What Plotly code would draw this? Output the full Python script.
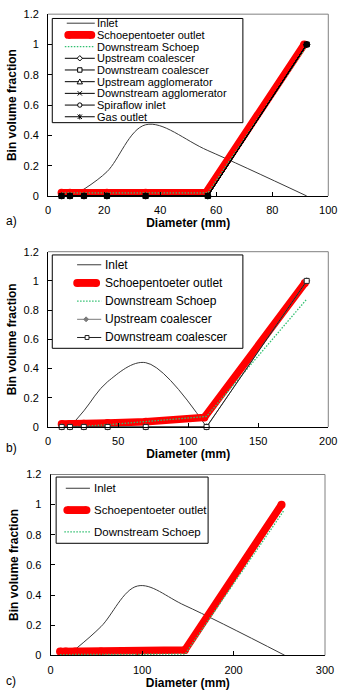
import plotly.graph_objects as go

W, H = 354, 697
FONT = "Liberation Sans, Arial, sans-serif"

# ---------------- data: panel a ----------------
a_names = ["Inlet", "Schoepentoeter outlet", "Downstream Schoep", "Upstream coalescer",
           "Downstream coalescer", "Upstream agglomerator", "Downstream agglomerator",
           "Spiraflow inlet", "Gas outlet"]
a_x = [4.8, 7.8, 12.8, 21.0, 34.8, 57.0, 92.3]
a_inlet_x = [12.8, 21.0, 34.8, 57.0, 92.3]
a_inlet = [0.045, 0.16, 0.47, 0.30, 0.0]
a_schoep_x = [4.8, 7.8, 12.8, 21.0, 34.8, 56.3, 91.4]
a_schoep = [0.021, 0.021, 0.021, 0.021, 0.021, 0.021, 1.0]
a_down_schoep = [0.02, 0.02, 0.02, 0.02, 0.02, 0.02, 0.99]
a_up_coal = [0, 0, 0, 0, 0, 0, 1.0]
a_down_coal = [0, 0, 0, 0, 0, 0, 1.0]
a_up_agg = [0, 0, 0, 0, 0, 0, 1.0]
a_down_agg = [0, 0, 0, 0, 0, 0, 1.0]
a_spira = [0, 0, 0, 0, 0, 0, 1.0]
a_gas = [0, 0, 0, 0, 0, 0, 1.0]

# ---------------- data: panel b ----------------
b_names = ["Inlet", "Schoepentoeter outlet", "Downstream Schoep", "Upstream coalescer",
           "Downstream coalescer"]
b_x = [9.7, 15.6, 25.5, 42.5, 69.7, 113.1, 184.6]
b_inlet_x = [15.6, 25.5, 42.5, 69.7, 113.1]
b_inlet = [0.0, 0.11, 0.31, 0.44, 0.0]
b_schoep_x = [9.7, 15.6, 25.5, 42.5, 69.7, 111.5, 183.3]
b_schoep = [0.02, 0.02, 0.022, 0.027, 0.036, 0.065, 0.985]
b_down_schoep = [0.0, 0.0, 0.005, 0.015, 0.035, 0.072, 0.875]
b_up_coal = [0, 0, 0, 0, 0, 0, 1.0]
b_down_coal = [0, 0, 0, 0, 0, 0, 1.0]

# ---------------- data: panel c ----------------
c_names = ["Inlet", "Schoepentoeter outlet", "Downstream Schoep"]
c_inlet_x = [27, 55, 95, 147, 256]
c_inlet = [0.04, 0.19, 0.46, 0.33, 0.0]
c_schoep_x = [10.3, 16.5, 27, 55, 95, 146.8, 252.5]
c_schoep = [0.025, 0.025, 0.025, 0.026, 0.028, 0.035, 1.0]
c_down_schoep_x = [10.3, 16.5, 27, 55, 95, 147, 255]
c_down_schoep = [0.005, 0.005, 0.005, 0.005, 0.006, 0.008, 0.96]

# axis ticks
x_ranges = [[0, 100], [0, 200], [0, 300]]
x_dticks = [20, 50, 100]
y_range = [0, 1.2]
y_dtick = 0.2

RED = "#ff0000"
GREEN = "#2fbf6f"
GREEN_DASH = "1.5px,1.5px"
INLET = "#3a3a3a"
GRAY = "#7a7a7a"


def px(x):
    return x / W


def py(y):
    return 1 - y / H


fig = go.Figure()


def inlet_trace(x, y, xa, ya, name):
    return go.Scatter(x=x, y=y, xaxis=xa, yaxis=ya, name=name, mode="lines",
                      line=dict(color=INLET, width=1, shape="spline", smoothing=1),
                      showlegend=False, hoverinfo="skip")


def red_trace(x, y, xa, ya, name):
    return go.Scatter(x=x, y=y, xaxis=xa, yaxis=ya, name=name, mode="lines+markers",
                      line=dict(color=RED, width=7.5),
                      marker=dict(color=RED, size=8, symbol="circle", line=dict(width=0)),
                      showlegend=False, hoverinfo="skip")


def green_trace(x, y, xa, ya, name):
    return go.Scatter(x=x, y=y, xaxis=xa, yaxis=ya, name=name, mode="lines",
                      line=dict(color=GREEN, width=1.3, dash=GREEN_DASH),
                      showlegend=False, hoverinfo="skip")


def black_trace(x, y, xa, ya, name, symbol, color="black", fill="black", size=5):
    return go.Scatter(x=x, y=y, xaxis=xa, yaxis=ya, name=name, mode="lines+markers",
                      line=dict(color=color, width=1),
                      marker=dict(symbol=symbol, size=size, color=fill,
                                  line=dict(color=color, width=1)),
                      cliponaxis=False, showlegend=False, hoverinfo="skip")


# panel a
fig.add_trace(inlet_trace(a_inlet_x, a_inlet, "x", "y", a_names[0]))
fig.add_trace(red_trace(a_schoep_x, a_schoep, "x", "y", a_names[1]))
fig.add_trace(green_trace(a_x, a_down_schoep, "x", "y", a_names[2]))
fig.add_trace(black_trace(a_x, a_up_coal, "x", "y", a_names[3], "diamond"))
fig.add_trace(black_trace(a_x, a_down_coal, "x", "y", a_names[4], "square"))
fig.add_trace(black_trace(a_x, a_up_agg, "x", "y", a_names[5], "triangle-up"))
fig.add_trace(black_trace(a_x, a_down_agg, "x", "y", a_names[6], "x-thin-open"))
fig.add_trace(black_trace(a_x, a_spira, "x", "y", a_names[7], "circle"))
fig.add_trace(black_trace(a_x, a_gas, "x", "y", a_names[8], "asterisk-open"))

# panel b
fig.add_trace(inlet_trace(b_inlet_x, b_inlet, "x2", "y2", b_names[0]))
fig.add_trace(red_trace(b_schoep_x, b_schoep, "x2", "y2", b_names[1]))
fig.add_trace(green_trace(b_x, b_down_schoep, "x2", "y2", b_names[2]))
fig.add_trace(black_trace(b_x, b_up_coal, "x2", "y2", b_names[3], "diamond",
                          color=GRAY, fill=GRAY))
fig.add_trace(black_trace(b_x, b_down_coal, "x2", "y2", b_names[4], "square",
                          color="#222222", fill="white"))

# panel c
fig.add_trace(inlet_trace(c_inlet_x, c_inlet, "x3", "y3", c_names[0]))
fig.add_trace(red_trace(c_schoep_x, c_schoep, "x3", "y3", c_names[1]))
fig.add_trace(green_trace(c_down_schoep_x, c_down_schoep, "x3", "y3", c_names[2]))

# ---------------- layout ----------------
panels = [
    # (left, right, top, bottom) in px
    (46.7, 336.7, 8.3, 193.3),
    (46.7, 336.7, 250.0, 428.3),
    (49.3, 333.3, 476.7, 660.7),
]

tickfont = dict(family=FONT, size=11, color="black")
titlefont = dict(family=FONT, size=12, color="black", weight="bold")

layout = dict(width=W, height=H, margin=dict(l=0, r=0, t=0, b=0),
              paper_bgcolor="white", plot_bgcolor="white", showlegend=False)
shapes = []
annotations = []
for i, (l, r, t, b) in enumerate(panels):
    sfx = "" if i == 0 else str(i + 1)
    layout["xaxis" + sfx] = dict(
        domain=[px(l), px(r)], anchor="y" + sfx, range=x_ranges[i], dtick=x_dticks[i],
        tick0=0, ticks="inside", ticklen=4, tickcolor="black", showline=True,
        linecolor="black", linewidth=1, showgrid=False, zeroline=False,
        tickfont=tickfont, ticklabelstandoff=4,
        title=dict(text="Diameter (mm)", font=titlefont, standoff=2))
    layout["yaxis" + sfx] = dict(
        domain=[py(b), py(t)], anchor="x" + sfx, range=y_range, dtick=y_dtick,
        tick0=0, ticks="inside", ticklen=4, tickcolor="black", showline=True,
        linecolor="black", linewidth=1, showgrid=False, zeroline=False,
        tickfont=tickfont, ticklabelstandoff=6,
        title=dict(text="Bin volume fraction", font=titlefont, standoff=4))
    # gray plot-area border (top & right)
    xd, yd = "x%s domain" % sfx, "y%s domain" % sfx
    shapes.append(dict(type="line", xref=xd, yref=yd, x0=0, x1=1, y0=1, y1=1,
                       line=dict(color="#808080", width=1)))
    shapes.append(dict(type="line", xref=xd, yref=yd, x0=1, x1=1, y0=0, y1=1,
                       line=dict(color="#808080", width=1)))

# panel letters
for lab, yy in [("a)", 218.3), ("b)", 450.0), ("c)", 687.3)]:
    annotations.append(dict(text=lab, xref="paper", yref="paper", x=px(1.5), y=py(yy),
                            xanchor="left", yanchor="middle", showarrow=False,
                            font=dict(family=FONT, size=12, color="black")))


# ---------------- custom legends ----------------
def pline(x0, x1, y, color, width=1, dash="solid"):
    shapes.append(dict(type="line", xref="paper", yref="paper", x0=px(x0), x1=px(x1),
                       y0=py(y), y1=py(y), line=dict(color=color, width=width, dash=dash)))


def pthick(x0, x1, y, color, th):
    r = th / 2
    shapes.append(dict(type="rect", xref="paper", yref="paper", x0=px(x0 + r), x1=px(x1 - r),
                       y0=py(y - r), y1=py(y + r), fillcolor=color, line=dict(width=0)))
    for cx in (x0 + r, x1 - r):
        shapes.append(dict(type="circle", xref="paper", yref="paper", x0=px(cx - r),
                           x1=px(cx + r), y0=py(y - r), y1=py(y + r), fillcolor=color,
                           line=dict(width=0)))


def ppath(pts, close=True, fill="white", color="black", width=1):
    d = "M " + " L ".join("%.5f,%.5f" % (px(a), py(b)) for a, b in pts)
    if close:
        d += " Z"
    shapes.append(dict(type="path", xref="paper", yref="paper", path=d,
                       fillcolor=fill if close else None,
                       line=dict(color=color, width=width)))


def pmarker(kind, cx, cy, s=4.5, color="black", fill="white"):
    h = s / 2
    if kind == "diamond":
        ppath([(cx, cy - h - 0.5), (cx + h + 0.5, cy), (cx, cy + h + 0.5), (cx - h - 0.5, cy)],
              fill=fill, color=color)
    elif kind == "square":
        shapes.append(dict(type="rect", xref="paper", yref="paper", x0=px(cx - h), x1=px(cx + h),
                           y0=py(cy + h), y1=py(cy - h), fillcolor=fill,
                           line=dict(color=color, width=1)))
    elif kind == "triangle":
        ppath([(cx, cy - h - 0.5), (cx + h + 0.5, cy + h), (cx - h - 0.5, cy + h)],
              fill=fill, color=color)
    elif kind == "x":
        ppath([(cx - h, cy - h), (cx + h, cy + h)], close=False, color=color)
        ppath([(cx + h, cy - h), (cx - h, cy + h)], close=False, color=color)
    elif kind == "circle":
        shapes.append(dict(type="circle", xref="paper", yref="paper", x0=px(cx - h),
                           x1=px(cx + h), y0=py(cy + h), y1=py(cy - h), fillcolor=fill,
                           line=dict(color=color, width=1)))
    elif kind == "asterisk":
        ppath([(cx - h, cy - h), (cx + h, cy + h)], close=False, color=color)
        ppath([(cx + h, cy - h), (cx - h, cy + h)], close=False, color=color)
        ppath([(cx, cy - h - 0.5), (cx, cy + h + 0.5)], close=False, color=color)


def legend_box(x0, x1, y0, y1):
    shapes.append(dict(type="rect", xref="paper", yref="paper", x0=px(x0), x1=px(x1),
                       y0=py(y1), y1=py(y0), fillcolor="white",
                       line=dict(color="black", width=1)))


def legend_text(text, x, y, size):
    annotations.append(dict(text=text, xref="paper", yref="paper", x=px(x), y=py(y),
                            xanchor="left", yanchor="middle", showarrow=False,
                            borderpad=0, font=dict(family=FONT, size=size, color="black")))


# legend a
legend_box(51, 248.3, 12.7, 118.7)
a_keys = [None, None, None, "diamond", "square", "triangle", "x", "circle", "asterisk"]
for i, nm in enumerate(a_names):
    y = 17.5 + 11.9 * i
    if i == 0:
        pline(66, 95, y, INLET)
    elif i == 1:
        pthick(63.5, 95.5, y, RED, 8)
    elif i == 2:
        pline(64, 95, y, GREEN, 1.3, GREEN_DASH)
    else:
        pline(64, 95, y, "black")
        pmarker(a_keys[i], 79.5, y)
    legend_text(nm, 96.2, y, 11)

# legend b
legend_box(51, 248.3, 253.3, 348.3)
for i, nm in enumerate(b_names):
    y = 263.3 + 18.5 * i
    if i == 0:
        pline(76.7, 101.7, y, INLET)
    elif i == 1:
        pthick(72.7, 100.5, y, RED, 8)
    elif i == 2:
        pline(76.7, 101.7, y, GREEN, 1.3, GREEN_DASH)
    elif i == 3:
        pline(76.7, 101.7, y, GRAY)
        pmarker("diamond", 86, y, s=4, color=GRAY, fill=GRAY)
    else:
        pline(76.7, 101.7, y, "#222222")
        pmarker("square", 87, y, s=4, color="#222222", fill="white")
    legend_text(nm, 104.3, y, 12)

# legend c
legend_box(55, 212.3, 479.3, 546.7)
for i, nm in enumerate(c_names):
    y = 490.7 + 22.2 * i
    if i == 0:
        pline(65, 90, y, INLET)
    elif i == 1:
        pthick(62.5, 90.5, y, RED, 8)
    else:
        pline(63.5, 90, y, GREEN, 1.3, GREEN_DASH)
    legend_text(nm, 92.7, y, 11.5)

layout["shapes"] = shapes
layout["annotations"] = annotations
fig.update_layout(**layout)

fig.write_html("out.html", config={"displayModeBar": False},
               post_script="document.body.style.margin='0';")
